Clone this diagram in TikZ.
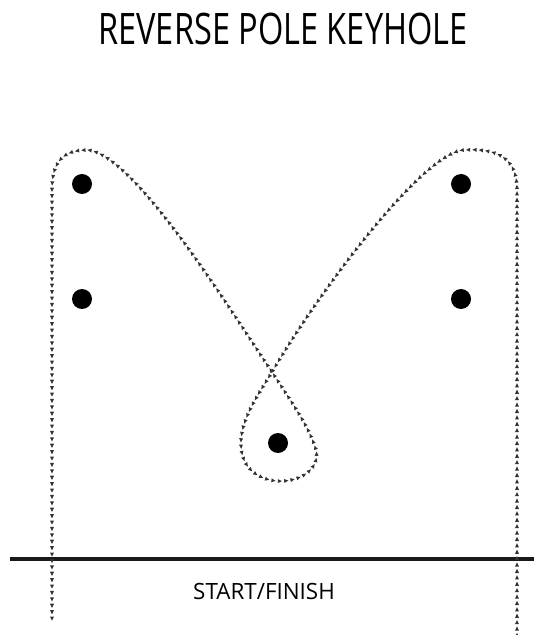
\documentclass[tikz,border=0pt]{standalone}
\usepackage{fontspec}
\setmainfont{Open Sans}
\newfontfamily\titlefont[FakeStretch=0.75]{Open Sans}
\usetikzlibrary{decorations.markings,positioning}

\tikzset{
  pole/.style={circle, fill=black, inner sep=0pt, minimum size=10pt},
  track/.style={postaction={decorate}, decoration={markings,
      mark=between positions 0 and 1 step 3.2pt with {\fill[black!80] (-1pt,-1pt) -- (1.1pt,0pt) -- (-1pt,1pt) -- cycle;}}},
  finishline/.style={line width=1.8pt, black!90}
}

\begin{document}
\begin{tikzpicture}[x=0.5pt, y=-0.5pt]
  \useasboundingbox (0,0) rectangle (534,635);

  % title and line
  \node[font=\titlefont\fontsize{21.7}{24}\selectfont] (title) at (283,29) {REVERSE POLE KEYHOLE};
  \coordinate (fl) at (10,559);
  \coordinate (fr) at (534,559);
  \draw[finishline] (fl) -- (fr);
  \node[font=\fontsize{11.2}{13}\selectfont] (finish) at (264,591) {START/FINISH};

  % poles
  \node[pole] (lefttop) at (82,184) {};
  \node[pole] (leftlow) at (82,299) {};
  \node[pole] (righttop) at (461,184) {};
  \node[pole] (rightlow) at (461,299) {};
  \node[pole] (centre) at (278,443) {};

  % the run
  \path[track] (517,635) -- (517,190)
    .. controls (517,160) and (500,148) .. (465,150)
    .. controls (425,150) and (320,290) .. (272,372)
    .. controls (258,395) and (240,420) .. (241,445)
    .. controls (242,475) and (268,482) .. (283,481)
    .. controls (305,480) and (322,465) .. (315,447)
    .. controls (308,425) and (290,400) .. (272,372)
    .. controls (230,310) and (135,155) .. (88,150)
    .. controls (60,150) and (52,165) .. (52,190)
    -- (52,621);
\end{tikzpicture}
\end{document}
